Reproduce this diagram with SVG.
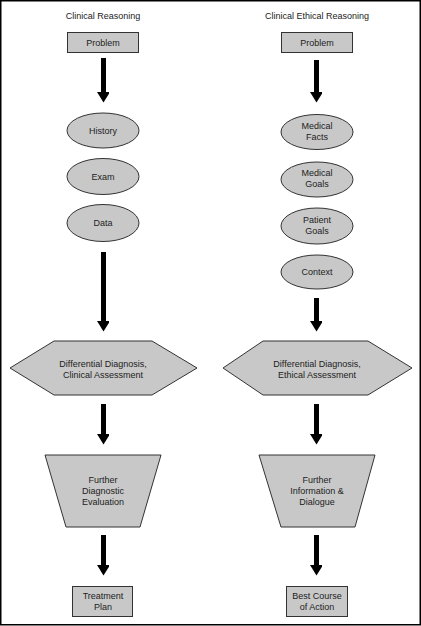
<svg xmlns="http://www.w3.org/2000/svg" width="421" height="626" viewBox="0 0 421 626">
<style>
.n{fill:#c8c8c8;stroke:#333;stroke-width:1}
.t{font-family:"Liberation Sans",Arial,sans-serif;font-size:9px;fill:#222;text-anchor:middle}
.c{stroke:#000;stroke-width:5;fill:none}
</style>
<defs>
<marker id="ah" markerUnits="userSpaceOnUse" markerWidth="16" markerHeight="13" refX="0" refY="6.5" orient="auto" viewBox="0 0 13 16">
<path d="M0,0 L13,8 L0,16 Z" fill="#000" transform="translate(0,-1.5)"/>
</marker>
</defs>
<rect x="0.75" y="0.75" width="419.5" height="624" fill="#fff" stroke="#000" stroke-width="1.5"/>
<text class="t" x="103" y="18.5">Clinical Reasoning</text>
<text class="t" x="317" y="18.5">Clinical Ethical Reasoning</text>
<g id="connectors">
<path class="c" d="M103.5,58 V92" marker-end="url(#ah)"/>
<path class="c" d="M103.5,252 V321" marker-end="url(#ah)"/>
<path class="c" d="M103.5,404 V434" marker-end="url(#ah)"/>
<path class="c" d="M103.5,535 V565" marker-end="url(#ah)"/>
<path class="c" d="M316.5,60 V92" marker-end="url(#ah)"/>
<path class="c" d="M316.5,298 V321" marker-end="url(#ah)"/>
<path class="c" d="M316.5,404 V434" marker-end="url(#ah)"/>
<path class="c" d="M316.5,535 V565" marker-end="url(#ah)"/>
</g>
<g id="problem-l"><rect class="n" x="67.5" y="32.5" width="71" height="20"/><text class="t" x="103" y="46">Problem</text></g>
<g id="history"><ellipse class="n" cx="103" cy="130.5" rx="36" ry="17.5"/><text class="t" x="103" y="133.5">History</text></g>
<g id="exam"><ellipse class="n" cx="103" cy="176.5" rx="36" ry="18"/><text class="t" x="103" y="179.5">Exam</text></g>
<g id="data"><ellipse class="n" cx="103" cy="223" rx="36" ry="18.5"/><text class="t" x="103" y="226">Data</text></g>
<g id="hex-l"><polygon class="n" points="10,368 54,341 152,341 197,368 152,395 54,395"/><text class="t" x="103" y="366.5">Differential Diagnosis,</text><text class="t" x="103" y="377.5">Clinical Assessment</text></g>
<g id="trap-l"><polygon class="n" points="45,455 161,455 140,527 66,527"/><text class="t" x="103" y="483">Further</text><text class="t" x="103" y="494">Diagnostic</text><text class="t" x="103" y="504.5">Evaluation</text></g>
<g id="treatment"><rect class="n" x="72.5" y="586.5" width="60" height="30"/><text class="t" x="103" y="599">Treatment</text><text class="t" x="103" y="609.5">Plan</text></g>
<g id="problem-r"><rect class="n" x="281.5" y="32.5" width="71" height="20"/><text class="t" x="317" y="46">Problem</text></g>
<g id="facts"><ellipse class="n" cx="317" cy="132" rx="36" ry="17.5"/><text class="t" x="317" y="128.5">Medical</text><text class="t" x="317" y="139.5">Facts</text></g>
<g id="mgoals"><ellipse class="n" cx="317" cy="179.5" rx="36" ry="17.5"/><text class="t" x="317" y="176">Medical</text><text class="t" x="317" y="187">Goals</text></g>
<g id="pgoals"><ellipse class="n" cx="317" cy="226" rx="36" ry="18"/><text class="t" x="317" y="222.5">Patient</text><text class="t" x="317" y="233.5">Goals</text></g>
<g id="context"><ellipse class="n" cx="317" cy="272" rx="36" ry="17"/><text class="t" x="317" y="275">Context</text></g>
<g id="hex-r"><polygon class="n" points="223,368 263,341 368,341 412,368 368,395 263,395"/><text class="t" x="317" y="366.5">Differential Diagnosis,</text><text class="t" x="317" y="377.5">Ethical Assessment</text></g>
<g id="trap-r"><polygon class="n" points="259,455 375,455 355,527 281,527"/><text class="t" x="317" y="483">Further</text><text class="t" x="317" y="494">Information &amp;</text><text class="t" x="317" y="504.5">Dialogue</text></g>
<g id="best"><rect class="n" x="286.5" y="586.5" width="61" height="30"/><text class="t" x="317" y="599">Best Course</text><text class="t" x="317" y="609.5">of Action</text></g>
</svg>
